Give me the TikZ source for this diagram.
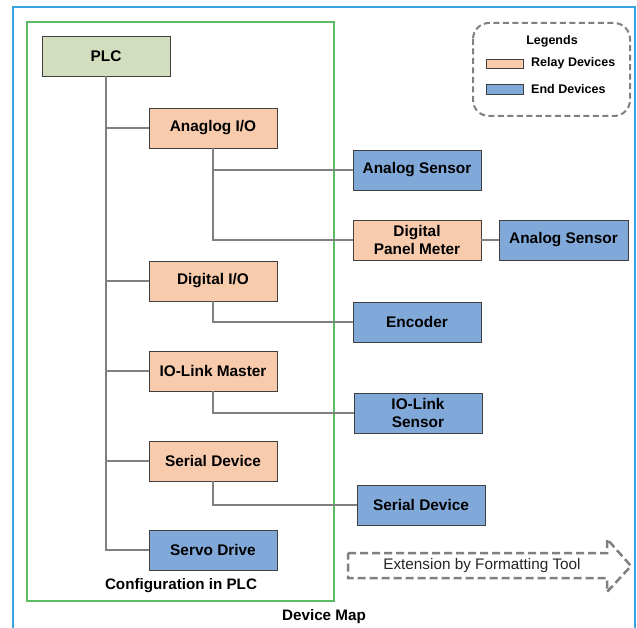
\documentclass[tikz,border=0pt]{standalone}
\usepackage{fontspec}
\setmainfont{Liberation Sans}
\definecolor{relayfill}{HTML}{F8CBAD}
\definecolor{endfill}{HTML}{80A9DA}
\definecolor{plcfill}{HTML}{D2DEBE}
\definecolor{boxline}{HTML}{404040}
\definecolor{conn}{HTML}{808080}
\definecolor{greenframe}{HTML}{5DBB63}
\definecolor{blueframe}{HTML}{3AA3E3}
\definecolor{dashgray}{HTML}{808080}
\tikzset{
  dev/.style={draw=boxline, line width=0.9pt, minimum width=128pt, minimum height=40pt,
    inner sep=1pt, align=center, font=\fontsize{15.4}{18}\selectfont\bfseries},
  relay/.style={dev, fill=relayfill},
  enddev/.style={dev, fill=endfill},
  plcbox/.style={dev, fill=plcfill},
  wire/.style={draw=conn, line width=1.2pt},
  swatch/.style={draw=boxline, line width=0.8pt},
  legtext/.style={font=\fontsize{12.5}{14}\selectfont\bfseries, inner sep=0pt},
  captext/.style={font=\fontsize{15.2}{17}\selectfont\bfseries, inner sep=0pt},
}
\begin{document}
\begin{tikzpicture}[x=1pt,y=-1pt]
\clip (0,0) rectangle (637,628);
\useasboundingbox (0,0) rectangle (637,628);
\fill[white] (0,0) rectangle (637,628);
% outer frame
\draw[blueframe, line width=2pt] (13,7) rectangle (635,700);
% green frame
\draw[greenframe, line width=1.5pt] (27,22) rectangle (334,601);
% nodes
\node[plcbox] (plc) at (106,56) {PLC};
\node[relay] (ana) at (213,128) {Anaglog I/O};
\node[enddev] (asens) at (417,170) {Analog Sensor};
\node[relay] (dpm) at (417,240) {Digital\\Panel Meter};
\node[enddev, minimum width=129pt] (asens2) at (563.5,240) {Analog Sensor};
\node[relay] (dio) at (213,281) {Digital I/O};
\node[enddev] (enc) at (417,322) {Encoder};
\node[relay] (iol) at (213,371) {IO-Link Master};
\node[enddev] (iols) at (418,413) {IO-Link\\Sensor};
\node[relay] (ser) at (213,461) {Serial Device};
\node[enddev] (sers) at (421,505) {Serial Device};
\node[enddev] (servo) at (213,550) {Servo Drive};
% connectors
\draw[wire] (plc.south) |- (servo.west);
\draw[wire] (plc.south) |- (ana.west);
\draw[wire] (plc.south) |- (dio.west);
\draw[wire] (plc.south) |- (iol.west);
\draw[wire] (plc.south) |- (ser.west);
\draw[wire] (ana.south) |- (dpm.west);
\draw[wire] (ana.south) |- (asens.west);
\draw[wire] (dpm.east) -- (asens2.west);
\draw[wire] (dio.south) |- (enc.west);
\draw[wire] (iol.south) |- (iols.west);
\draw[wire] (ser.south) |- (sers.west);
% captions
\node[captext] (cfg) at (181,586) {Configuration in PLC};
\node[captext] (dmap) at (324,617) {Device Map};
% legend
\draw[dashgray, dash pattern=on 6pt off 3.5pt, line width=2pt, rounded corners=16pt] (473,23) rectangle (630,116);
\node[legtext] (legt) at (552,41) {Legends};
\draw[swatch, fill=relayfill] (486,59) rectangle (523,68);
\node[legtext, anchor=west] (legr) at (531,63.5) {Relay Devices};
\draw[swatch, fill=endfill] (486,84) rectangle (523,94);
\node[legtext, anchor=west] (lege) at (531,89) {End Devices};
% extension arrow
\draw[dashgray, dash pattern=on 8pt off 4pt, line width=2.5pt, line join=miter]
  (348,553) -- (607,553) -- (607,539) -- (631,566) -- (607,592) -- (607,578) -- (348,578) -- cycle;
\node[font=\fontsize{15.3}{17}\selectfont, text=black!85, inner sep=0pt] (ext) at (482,566) {Extension by Formatting Tool};
\end{tikzpicture}
\end{document}
